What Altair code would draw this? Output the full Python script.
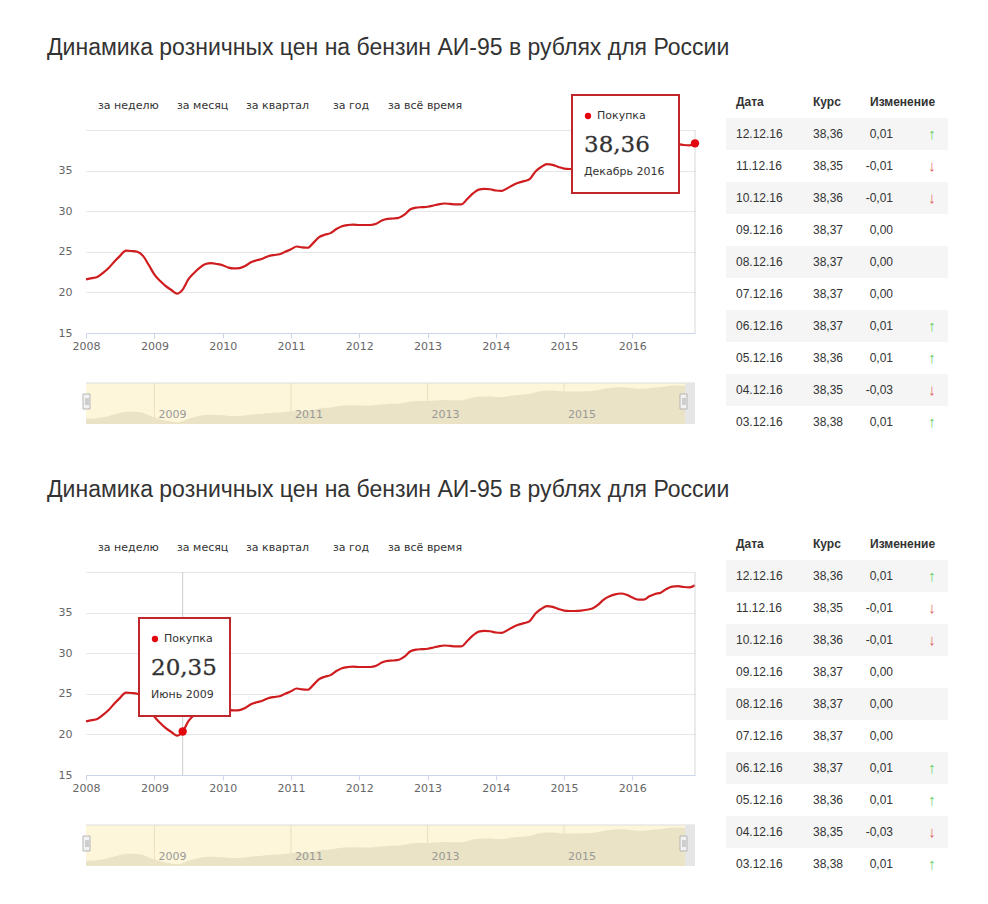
import altair as alt
import pandas as pd

# ---------------- data ----------------
TITLE = "Динамика розничных цен на бензин АИ-95 в рублях для России"
BUTTONS = ["за неделю", "за месяц", "за квартал", "за год", "за всё время"]
SERIES_NAME = "Покупка"
MONTHS_RU = ["Январь", "Февраль", "Март", "Апрель", "Май", "Июнь",
             "Июль", "Август", "Сентябрь", "Октябрь", "Ноябрь", "Декабрь"]

START_YEAR = 2008
PRICE_2008 = [21.6, 21.75, 21.9, 22.4, 23.0, 23.8, 24.5, 25.15, 25.1, 25.0, 24.5, 23.4]
PRICE_2009 = [22.2, 21.4, 20.8, 20.3, 19.85, 20.35, 21.6, 22.4, 23.05, 23.5, 23.6, 23.5]
PRICE_2010 = [23.35, 23.05, 22.95, 23.0, 23.25, 23.7, 23.95, 24.15, 24.45, 24.6, 24.7, 25.0]
PRICE_2011 = [25.3, 25.65, 25.55, 25.5, 26.1, 26.8, 27.1, 27.3, 27.8, 28.15, 28.3, 28.35]
PRICE_2012 = [28.3, 28.3, 28.3, 28.45, 28.85, 29.05, 29.1, 29.2, 29.6, 30.25, 30.45, 30.5]
PRICE_2013 = [30.55, 30.7, 30.85, 30.95, 30.9, 30.85, 30.85, 31.5, 32.2, 32.65, 32.75, 32.7]
PRICE_2014 = [32.55, 32.5, 32.8, 33.2, 33.5, 33.7, 33.95, 34.9, 35.45, 35.8, 35.7, 35.45]
PRICE_2015 = [35.25, 35.2, 35.2, 35.25, 35.35, 35.5, 35.95, 36.6, 37.0, 37.25, 37.35, 37.2]
PRICE_2016 = [36.85, 36.6, 36.6, 37.0, 37.3, 37.45, 37.9, 38.2, 38.25, 38.15, 38.1, 38.36]
PRICES = (PRICE_2008 + PRICE_2009 + PRICE_2010 + PRICE_2011 + PRICE_2012
          + PRICE_2013 + PRICE_2014 + PRICE_2015 + PRICE_2016)
DATES = [f"{START_YEAR + i // 12}-{i % 12 + 1:02d}-01T00:00:00" for i in range(len(PRICES))]

AXIS_YEARS = list(range(2008, 2017))
NAV_YEARS = [2009, 2011, 2013, 2015]
Y_TICKS = [15, 20, 25, 30, 35, 40]
Y_DOMAIN = [15, 40]
NAV_Y_DOMAIN = [19, 38.5]

TABLE_HEADERS = ["Дата", "Курс", "Изменение"]
TABLE_DATES = ["12.12.16", "11.12.16", "10.12.16", "09.12.16", "08.12.16",
               "07.12.16", "06.12.16", "05.12.16", "04.12.16", "03.12.16"]
TABLE_RATES = [38.36, 38.35, 38.36, 38.37, 38.37, 38.37, 38.37, 38.36, 38.35, 38.38]
TABLE_CHANGES = [0.01, -0.01, -0.01, 0.00, 0.00, 0.00, 0.01, 0.01, -0.03, 0.01]

HIGHLIGHTS = [len(PRICES) - 1, 17]   # Dec 2016 (top), Jun 2009 (bottom)

# ---------------- layout / style ----------------
W, H = 609, 203
NAV_TOP, NAV_BOT = 253, 294
BUTTON_X = [12, 91, 160, 247, 302]
TIP_BOXES = [(486, -35, 107), (53, 46, 91)]
TIP_H = 98
LINE_RED = "#cf1d1f"
DOT_RED = "#e3060f"
BOX_RED = "#c0272d"
TXT = "#333333"
SANS = "DejaVu Sans"
ARIAL = "Liberation Sans"

X_DOMAIN = [alt.DateTime(year=2008, month=1, date=1), alt.DateTime(year=2016, month=12, date=1)]


def fmt(v):
    return f"{v:.2f}".replace(".", ",")


def txt(s, x, y, **kw):
    return alt.Chart(pd.DataFrame({"t": [s]})).mark_text(**kw).encode(
        x=alt.value(x), y=alt.value(y), text="t:N")


def section(hi, box, crosshair):
    bx, by, bw = box
    df = pd.DataFrame({"date": DATES, "price": PRICES})
    pt = df.iloc[[hi]]
    x_scale = alt.Scale(domain=X_DOMAIN)
    X = alt.X("date:T", scale=x_scale, title=None, axis=alt.Axis(
        values=[alt.DateTime(year=y, month=1, date=1) for y in AXIS_YEARS],
        format="%Y", grid=False, tickSize=5, tickColor="#ccd6eb", domainColor="#ccd6eb",
        labelColor="#666666", labelFont=SANS, labelFontSize=11, labelPadding=2,
        labelFlush=False, labelOverlap=False))
    Y = alt.Y("price:Q", scale=alt.Scale(domain=Y_DOMAIN), title=None, axis=alt.Axis(
        values=Y_TICKS, ticks=False, tickSize=0, domain=False, gridColor="#e6e6e6",
        labelColor="#666666", labelFont=SANS, labelFontSize=11, labelPadding=14,
        labelExpr="datum.value == 40 ? '' : datum.label"))

    layers = []
    if crosshair:
        layers.append(alt.Chart(pt).mark_rule(color="#cccccc", strokeWidth=1).encode(
            x=X, y=alt.value(0), y2=alt.value(H)))
    layers.append(alt.Chart(df).mark_line(color=LINE_RED, strokeWidth=2.2,
                                          interpolate="monotone").encode(x=X, y=Y))
    layers.append(alt.Chart(pd.DataFrame({"t": [0]})).mark_rule(color="#d8d8d8").encode(
        x=alt.value(W), y=alt.value(0), y2=alt.value(H)))
    layers.append(alt.Chart(pt).mark_circle(size=70, color=DOT_RED, opacity=1).encode(x=X, y=Y))
    # tooltip
    layers.append(alt.Chart(pd.DataFrame({"t": [0]})).mark_rect(
        fill="white", stroke=BOX_RED, strokeWidth=2).encode(
        x=alt.value(bx), x2=alt.value(bx + bw), y=alt.value(by), y2=alt.value(by + TIP_H)))
    layers.append(alt.Chart(pd.DataFrame({"t": [0]})).mark_circle(
        size=40, color=DOT_RED, opacity=1).encode(x=alt.value(bx + 16), y=alt.value(by + 21)))
    layers.append(txt(SERIES_NAME, bx + 25, by + 21, align="left", baseline="middle",
                      font=SANS, fontSize=11, color=TXT))
    layers.append(txt(fmt(PRICES[hi]), bx + 12, by + 50, align="left", baseline="middle",
                      font="DejaVu Serif", fontSize=23, color=TXT,
                      stroke=TXT, strokeWidth=0.3))
    layers.append(txt(f"{MONTHS_RU[hi % 12]} {START_YEAR + hi // 12}", bx + 12, by + 77,
                      align="left", baseline="middle", font=SANS, fontSize=11, color=TXT))
    # title and buttons
    layers.append(txt(TITLE, -39, -75, align="left", baseline="alphabetic",
                      font=ARIAL, fontSize=23, color=TXT))
    for label, bxp in zip(BUTTONS, BUTTON_X):
        layers.append(txt(label, bxp, -24, align="left", baseline="middle",
                          font=SANS, fontSize=11, color=TXT))
    # invisible anchor fixing the top-left of the canvas
    layers.append(alt.Chart(pd.DataFrame({"t": [0]})).mark_rect(opacity=0).encode(
        x=alt.value(-78), x2=alt.value(-70), y=alt.value(-122), y2=alt.value(-114)))
    main = alt.layer(*layers)

    # navigator
    NX = alt.X("date:T", scale=x_scale, axis=None)
    NY = alt.Y("price:Q", scale=alt.Scale(domain=NAV_Y_DOMAIN, range=[NAV_BOT, NAV_TOP + 2]),
               axis=None)
    one = pd.DataFrame({"t": [0]})
    ny = pd.DataFrame({"date": [f"{y}-01-01T00:00:00" for y in NAV_YEARS],
                       "lbl": [str(y) for y in NAV_YEARS]})
    nav = alt.layer(
        alt.Chart(one).mark_rect(fill="#fdf6da").encode(
            x=alt.value(0), x2=alt.value(W), y=alt.value(NAV_TOP), y2=alt.value(NAV_BOT)),
        alt.Chart(ny).mark_rule(color="#e9e0c0").encode(
            x=NX, y=alt.value(NAV_TOP), y2=alt.value(NAV_BOT)),
        alt.Chart(df).mark_area(color="#ebe3c5", interpolate="monotone").encode(
            x=NX, y=NY, y2=alt.datum(NAV_Y_DOMAIN[0])),
        alt.Chart(ny).mark_text(align="left", dx=4, baseline="middle", font=SANS,
                                fontSize=11, color="#999999").encode(
            x=NX, y=alt.value(285), text="lbl:N"),
        alt.Chart(one).mark_rule(color="#dddddd").encode(
            x=alt.value(0), x2=alt.value(W), y=alt.value(NAV_TOP)),
        alt.Chart(one).mark_rect(fill="#e6e6e6").encode(
            x=alt.value(W - 10), x2=alt.value(W), y=alt.value(NAV_TOP), y2=alt.value(NAV_BOT)),
        alt.Chart(one).mark_rect(fill="#f2f2f2", stroke="#b5b5b5", strokeWidth=1).encode(
            x=alt.value(-3), x2=alt.value(4), y=alt.value(264), y2=alt.value(279)),
        alt.Chart(one).mark_rect(fill="#f2f2f2", stroke="#b5b5b5", strokeWidth=1).encode(
            x=alt.value(594), x2=alt.value(601), y=alt.value(264), y2=alt.value(279)),
        alt.Chart(one).mark_rule(color="#aaaaaa").encode(
            x=alt.value(0), y=alt.value(268), y2=alt.value(275)),
        alt.Chart(one).mark_rule(color="#aaaaaa").encode(
            x=alt.value(2), y=alt.value(268), y2=alt.value(275)),
        alt.Chart(one).mark_rule(color="#aaaaaa").encode(
            x=alt.value(597), y=alt.value(268), y2=alt.value(275)),
        alt.Chart(one).mark_rule(color="#aaaaaa").encode(
            x=alt.value(599), y=alt.value(268), y2=alt.value(275)),
    )

    # table
    rows = list(range(1, len(TABLE_DATES) + 1))
    dt = pd.DataFrame({
        "r0": rows, "r1": [r + 1 for r in rows], "rc": [r + 0.5 for r in rows],
        "d": TABLE_DATES, "rate": [fmt(v) for v in TABLE_RATES],
        "chg": [fmt(v) for v in TABLE_CHANGES],
        "arrow": ["↑" if c > 0 else ("↓" if c < 0 else "") for c in TABLE_CHANGES],
        "ac": ["#5fcf5f" if c > 0 else "#e05a5a" for c in TABLE_CHANGES],
        "shade": [r % 2 == 1 for r in rows],
    })
    TY = alt.Scale(domain=[0, len(rows) + 1], range=[-44, -44 + 32 * (len(rows) + 1)])

    def col(field, xp, align, data=dt, weight="normal", font=ARIAL, size=12, color=TXT):
        return alt.Chart(data).mark_text(align=align, baseline="middle", font=font,
                                         fontSize=size, fontWeight=weight, color=color).encode(
            x=alt.value(xp), y=alt.Y("rc:Q", scale=TY, axis=None), text=f"{field}:N")

    hdr = [pd.DataFrame({"rc": [0.5], "h": [h]}) for h in TABLE_HEADERS]
    table = alt.layer(
        alt.Chart(dt).transform_filter("datum.shade").mark_rect(color="#f5f5f5").encode(
            x=alt.value(640), x2=alt.value(862),
            y=alt.Y("r0:Q", scale=TY, axis=None), y2="r1:Q"),
        col("h", 650, "left", data=hdr[0], weight="bold"),
        col("h", 727, "left", data=hdr[1], weight="bold"),
        col("h", 784, "left", data=hdr[2], weight="bold"),
        col("d", 650, "left"),
        col("rate", 727, "left"),
        col("chg", 807, "right"),
        alt.Chart(dt).mark_text(align="center", baseline="middle", font=ARIAL,
                                fontSize=15).encode(
            x=alt.value(846), y=alt.Y("rc:Q", scale=TY, axis=None), text="arrow:N",
            color=alt.Color("ac:N", scale=None)),
    )

    return alt.layer(main, nav, table).resolve_scale(
        x="independent", y="independent").properties(width=W, height=H)


s1 = section(HIGHLIGHTS[0], TIP_BOXES[0], False)
s2 = section(HIGHLIGHTS[1], TIP_BOXES[1], True)

chart = alt.vconcat(s1, s2, spacing=239, bounds="flush").properties(
    padding=0).configure_view(stroke=None)

chart.save("out.html", embed_options={"renderer": "svg", "actions": False})
